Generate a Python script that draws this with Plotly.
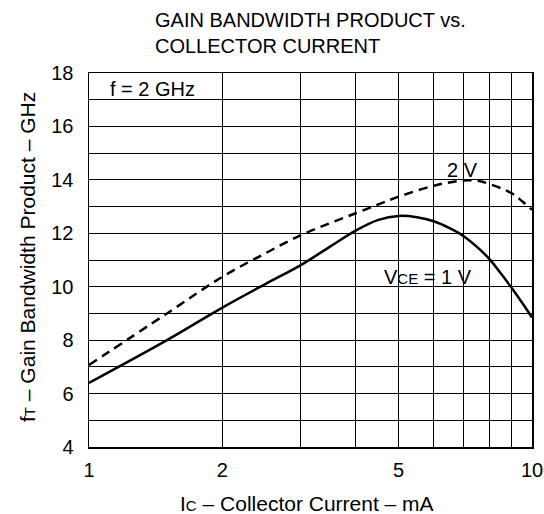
import math
import plotly.graph_objects as go

# Collector current (mA) and gain bandwidth product (GHz)
ic_1v = [1, 1.5, 2, 2.5, 3, 3.5, 4, 4.5, 5, 5.5, 6, 6.5, 7, 7.5, 8, 8.5, 9, 9.5, 10]
ft_1v = [6.4, 8.0, 9.22, 10.1, 10.8, 11.5, 12.1, 12.5, 12.65, 12.6, 12.45, 12.2, 11.9, 11.5, 11.05, 10.5, 9.95, 9.4, 8.85]

ic_2v = [1, 1.5, 2, 2.5, 3, 3.5, 4, 4.5, 5, 6, 7, 7.5, 8, 9, 9.5, 10]
ft_2v = [7.07, 9.0, 10.37, 11.25, 11.92, 12.38, 12.75, 13.08, 13.37, 13.78, 13.98, 13.97, 13.85, 13.5, 13.2, 12.88]

x_grid = [1, 2, 3, 4, 5, 6, 7, 8, 9, 10]
x_labels = ["1", "2", "", "", "5", "", "", "", "", "10"]
y_grid = list(range(4, 19))
y_labels = [str(v) if v % 2 == 0 else "" for v in y_grid]

FONT = "Liberation Sans, Arial, sans-serif"
SMALL = "<span style='font-size:15px'>{}</span>"

fig = go.Figure()
fig.add_trace(go.Scatter(x=ic_2v, y=ft_2v, mode="lines",
                         line=dict(color="black", width=2.5, dash="9px,6px", shape="spline"),
                         showlegend=False, hoverinfo="skip"))
fig.add_trace(go.Scatter(x=ic_1v, y=ft_1v, mode="lines",
                         line=dict(color="black", width=2.5, shape="spline"),
                         showlegend=False, hoverinfo="skip"))

fig.update_xaxes(type="log", range=[0, 1], tickvals=x_grid, ticktext=x_labels,
                 showgrid=True, gridcolor="black", gridwidth=1,
                 showline=True, linecolor="black", linewidth=1.5, mirror=True,
                 ticks="", ticklabelstandoff=4, automargin=False,
                 tickfont=dict(size=20, color="black", family=FONT), zeroline=False)
fig.update_yaxes(range=[4, 18], tickvals=y_grid, ticktext=y_labels,
                 showgrid=True, gridcolor="black", gridwidth=1,
                 showline=True, linecolor="black", linewidth=1.5, mirror=True,
                 ticks="", ticklabelstandoff=10, automargin=False,
                 tickfont=dict(size=20, color="black", family=FONT), zeroline=False)

fig.add_annotation(xref="paper", yref="paper", x=(153 - 89) / 443, y=(447 - 33.5) / 374,
                   xanchor="left", yanchor="middle",
                   text="GAIN BANDWIDTH PRODUCT vs.<br>COLLECTOR CURRENT", align="left",
                   showarrow=False, font=dict(size=20, color="black", family=FONT))
fig.add_annotation(xref="paper", yref="paper", x=0.043, y=0.957, xanchor="left", yanchor="middle",
                   text="f = 2 GHz", showarrow=False, font=dict(size=20, color="black", family=FONT))
fig.add_annotation(x=math.log10(6.95), y=14.37, text="2 V", showarrow=False,
                   font=dict(size=20, color="black", family=FONT))
fig.add_annotation(x=math.log10(5.83), y=10.37, text="V" + SMALL.format("CE") + " = 1 V", showarrow=False,
                   font=dict(size=20, color="black", family=FONT))
# axis titles
fig.add_annotation(xref="paper", yref="paper", x=(307 - 89) / 443, y=-(503 - 447) / 374,
                   xanchor="center", yanchor="middle", showarrow=False,
                   text="I" + SMALL.format("C") + " – Collector Current – mA",
                   font=dict(size=21, color="black", family=FONT))
fig.add_annotation(xref="paper", yref="paper", x=-(89 - 27) / 443, y=(447 - 257) / 374,
                   xanchor="center", yanchor="middle", showarrow=False, textangle=-90,
                   text="f" + SMALL.format("T") + " – Gain Bandwidth Product – GHz",
                   font=dict(size=21, color="black", family=FONT))

fig.update_layout(width=544, height=514, margin=dict(l=89, r=12, t=73, b=67),
                  plot_bgcolor="white", paper_bgcolor="white", hovermode=False,
                  font=dict(family=FONT, color="black"))
fig.write_html("out.html", post_script="document.body.style.margin='0';",
               config={"displayModeBar": False, "staticPlot": True})
